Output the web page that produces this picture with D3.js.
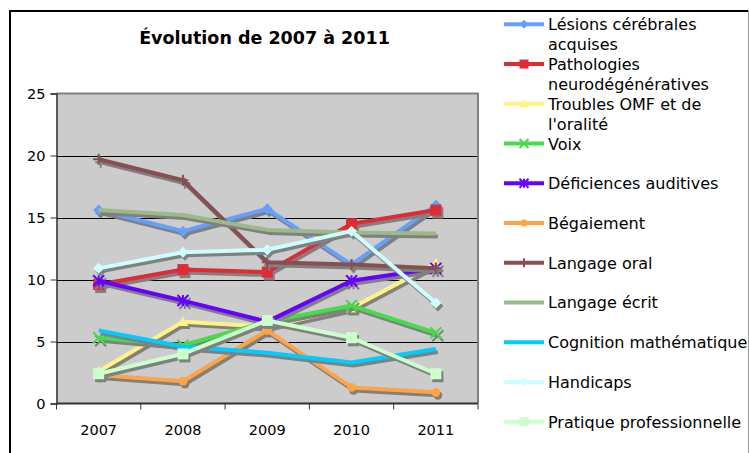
<!DOCTYPE html>
<html>
<head>
<meta charset="utf-8">
<script src="https://cdn.jsdelivr.net/npm/d3@7"></script>
<style>
  body { margin: 0; background: #fff; }
  svg { display: block; font-family: "DejaVu Sans", Verdana, sans-serif; }
</style>
</head>
<body>
<script>
// data
var years = ["2007", "2008", "2009", "2010", "2011"];
var yTicks = [0, 5, 10, 15, 20, 25];

var lesions     = [15.6, 13.9, 15.7, 11.2, 16.0];
var pathologies = [9.6, 10.8, 10.6, 14.5, 15.6];
var troubles    = [2.6, 6.6, 6.2, 7.7, 11.3];
var voix        = [5.3, 4.7, 6.6, 7.9, 5.7];
var deficiences = [9.9, 8.3, 6.6, 9.9, 10.9];
var begaiement  = [2.3, 1.8, 5.9, 1.3, 0.9];
var langOral    = [19.7, 18.0, 11.4, 11.2, 10.9];
var langEcrit   = [15.6, 15.2, 14.0, 13.8, 13.7];
var cognition   = [5.9, 4.6, 4.1, 3.3, 4.4];
var handicaps   = [10.9, 12.2, 12.4, 13.9, 8.1];
var pratique    = [2.4, 4.0, 6.7, 5.3, 2.4];

var seriesNames = [
  ["Lésions cérébrales", "acquises"],
  ["Pathologies", "neurodégénératives"],
  ["Troubles OMF et de", "l'oralité"],
  ["Voix"],
  ["Déficiences auditives"],
  ["Bégaiement"],
  ["Langage oral"],
  ["Langage écrit"],
  ["Cognition mathématique"],
  ["Handicaps"],
  ["Pratique professionnelle"]
];
var seriesValues = [lesions, pathologies, troubles, voix, deficiences, begaiement,
                    langOral, langEcrit, cognition, handicaps, pratique];

// styles
var colors = ["#66a0ff", "#dd2c36", "#fff385", "#44dc4a", "#6600ff", "#ffa347",
              "#875050", "#9cb98a", "#00ccff", "#ccffff", "#ccffcc"];
var markers = ["diamond", "square", "triangle", "x", "star", "circle",
               "plus", "none", "none", "diamond", "square"];

var series = seriesNames.map(function(n, i) {
  return { name: n, values: seriesValues[i], color: colors[i], marker: markers[i] };
});

var width = 749, height = 453;
var svg = d3.select("body").append("svg").attr("width", width).attr("height", height);

var plot = { left: 56.5, right: 478, top: 93.5, bottom: 403.5 };

var x = d3.scaleBand().domain(years).range([plot.left, plot.right]);
var y = d3.scaleLinear().domain([0, 25]).range([plot.bottom, plot.top]);

// outer frame
svg.append("line").attr("x1", 9).attr("x2", 748).attr("y1", 11).attr("y2", 11)
    .attr("stroke", "#000").attr("stroke-width", 2);
svg.append("line").attr("x1", 10).attr("x2", 10).attr("y1", 10).attr("y2", height)
    .attr("stroke", "#000").attr("stroke-width", 2);
svg.append("line").attr("x1", 748.5).attr("x2", 748.5).attr("y1", 10).attr("y2", height)
    .attr("stroke", "#999").attr("stroke-width", 1);

// title
svg.append("text")
    .attr("x", 264.5).attr("y", 43.5)
    .attr("text-anchor", "middle")
    .style("font-size", "17.5px").style("font-weight", "bold")
    .text("Évolution de 2007 à 2011");

// plot background
svg.append("rect")
    .attr("x", plot.left).attr("y", plot.top)
    .attr("width", plot.right - plot.left).attr("height", plot.bottom - plot.top)
    .attr("fill", "#cccccc");

// gridlines
svg.append("g").selectAll("line")
  .data(yTicks.filter(function(d){ return d > 0 && d < 25; }))
  .enter().append("line")
    .attr("x1", plot.left).attr("x2", plot.right)
    .attr("y1", function(d){ return Math.round(y(d)) + 0.5; })
    .attr("y2", function(d){ return Math.round(y(d)) + 0.5; })
    .attr("stroke", "#000").attr("stroke-width", 1);

// plot border top/right
svg.append("path")
    .attr("d", "M" + plot.left + "," + plot.top + "H" + plot.right + "V" + plot.bottom)
    .attr("fill", "none").attr("stroke", "#808080").attr("stroke-width", 2);

// y axis
var yAxis = svg.append("g")
    .attr("transform", "translate(" + plot.left + ",0)")
    .call(d3.axisLeft(y).tickValues(yTicks).tickSize(6).tickPadding(5));
yAxis.select(".domain").attr("stroke", "#333").attr("stroke-width", 1.5);
yAxis.selectAll(".tick line").attr("stroke", "#333");
yAxis.selectAll("text").style("font-size", "14.5px").attr("fill", "#000")
    .style("font-family", "DejaVu Sans, Verdana, sans-serif");

// x axis: ticks between categories
var xAxis = svg.append("g").attr("transform", "translate(0," + plot.bottom + ")");
xAxis.append("line").attr("x1", plot.left).attr("x2", plot.right)
    .attr("stroke", "#333").attr("stroke-width", 2);
xAxis.selectAll(".sep")
  .data(years.concat(["end"]))
  .enter().append("line")
    .attr("x1", function(d, i){ return plot.left + i * x.bandwidth(); })
    .attr("x2", function(d, i){ return plot.left + i * x.bandwidth(); })
    .attr("y1", 0).attr("y2", 6)
    .attr("stroke", "#333");
xAxis.selectAll("text")
  .data(years)
  .enter().append("text")
    .attr("x", function(d){ return x(d) + x.bandwidth() / 2; })
    .attr("y", 31.5)
    .attr("text-anchor", "middle")
    .style("font-size", "14.5px")
    .text(function(d){ return d; });

var cx = function(d, i){ return x(years[i]) + x.bandwidth() / 2; };
var line = d3.line().x(cx).y(function(d){ return y(d); });

function drawMarker(g, type, color, size) {
  var s = size;
  if (type === "diamond") {
    g.append("path").attr("d", "M0," + (-s) + "L" + s + ",0L0," + s + "L" + (-s) + ",0Z").attr("fill", color);
  } else if (type === "square") {
    g.append("rect").attr("x", -s).attr("y", -s).attr("width", 2 * s).attr("height", 2 * s).attr("fill", color);
  } else if (type === "triangle") {
    g.append("path").attr("d", "M0," + (-s) + "L" + s + "," + (s * 0.8) + "L" + (-s) + "," + (s * 0.8) + "Z").attr("fill", color);
  } else if (type === "circle") {
    g.append("circle").attr("r", s * 0.8).attr("fill", color);
  } else if (type === "x") {
    g.append("path").attr("d", "M" + (-s) + "," + (-s) + "L" + s + "," + s + "M" + s + "," + (-s) + "L" + (-s) + "," + s)
        .attr("stroke", color).attr("stroke-width", 2);
  } else if (type === "plus") {
    g.append("path").attr("d", "M0," + (-s) + "V" + s + "M" + (-s) + ",0H" + s)
        .attr("stroke", color).attr("stroke-width", 2);
  } else if (type === "star") {
    g.append("path").attr("d", "M" + (-s) + "," + (-s) + "L" + s + "," + s + "M" + s + "," + (-s) + "L" + (-s) + "," + s + "M0," + (-s) + "V" + s)
        .attr("stroke", color).attr("stroke-width", 2);
  }
}

// series, each with its own drop shadow
series.forEach(function(s) {
  var g = svg.append("g").attr("class", "series");
  var sh = g.append("g").attr("transform", "translate(2,3)");
  sh.append("path").datum(s.values).attr("d", line)
      .attr("fill", "none").attr("stroke", "#808080").attr("stroke-width", 4)
      .attr("stroke-linejoin", "round");
  s.values.forEach(function(v, i) {
    drawMarker(sh.append("g").attr("transform", "translate(" + cx(v, i) + "," + y(v) + ")"), s.marker, "#808080", 5.5);
  });
  g.append("path").datum(s.values).attr("d", line)
      .attr("fill", "none").attr("stroke", s.color).attr("stroke-width", 4)
      .attr("stroke-linejoin", "round");
  s.values.forEach(function(v, i) {
    drawMarker(g.append("g").attr("transform", "translate(" + cx(v, i) + "," + y(v) + ")"), s.marker, s.color, 5.5);
  });
});

// legend
svg.append("clipPath").attr("id", "legclip")
  .append("rect").attr("x", 490).attr("y", 12).attr("width", 258).attr("height", height);
var legend = svg.append("g").attr("clip-path", "url(#legclip)");
var ly = d3.scaleLinear().domain([0, 10]).range([24.3, 421.7]);

series.forEach(function(s, i) {
  var g = legend.append("g").attr("transform", "translate(0," + ly(i) + ")");
  g.append("line").attr("x1", 504).attr("x2", 544).attr("y1", 0).attr("y2", 0)
      .attr("stroke", s.color).attr("stroke-width", 4);
  drawMarker(g.append("g").attr("transform", "translate(524,0)"), s.marker, s.color, 4.5);
  s.name.forEach(function(t, j) {
    g.append("text").attr("x", 548).attr("y", 6 + j * 20)
        .style("font-size", "16px").attr("fill", "#000")
        .text(t);
  });
});
</script>
</body>
</html>
